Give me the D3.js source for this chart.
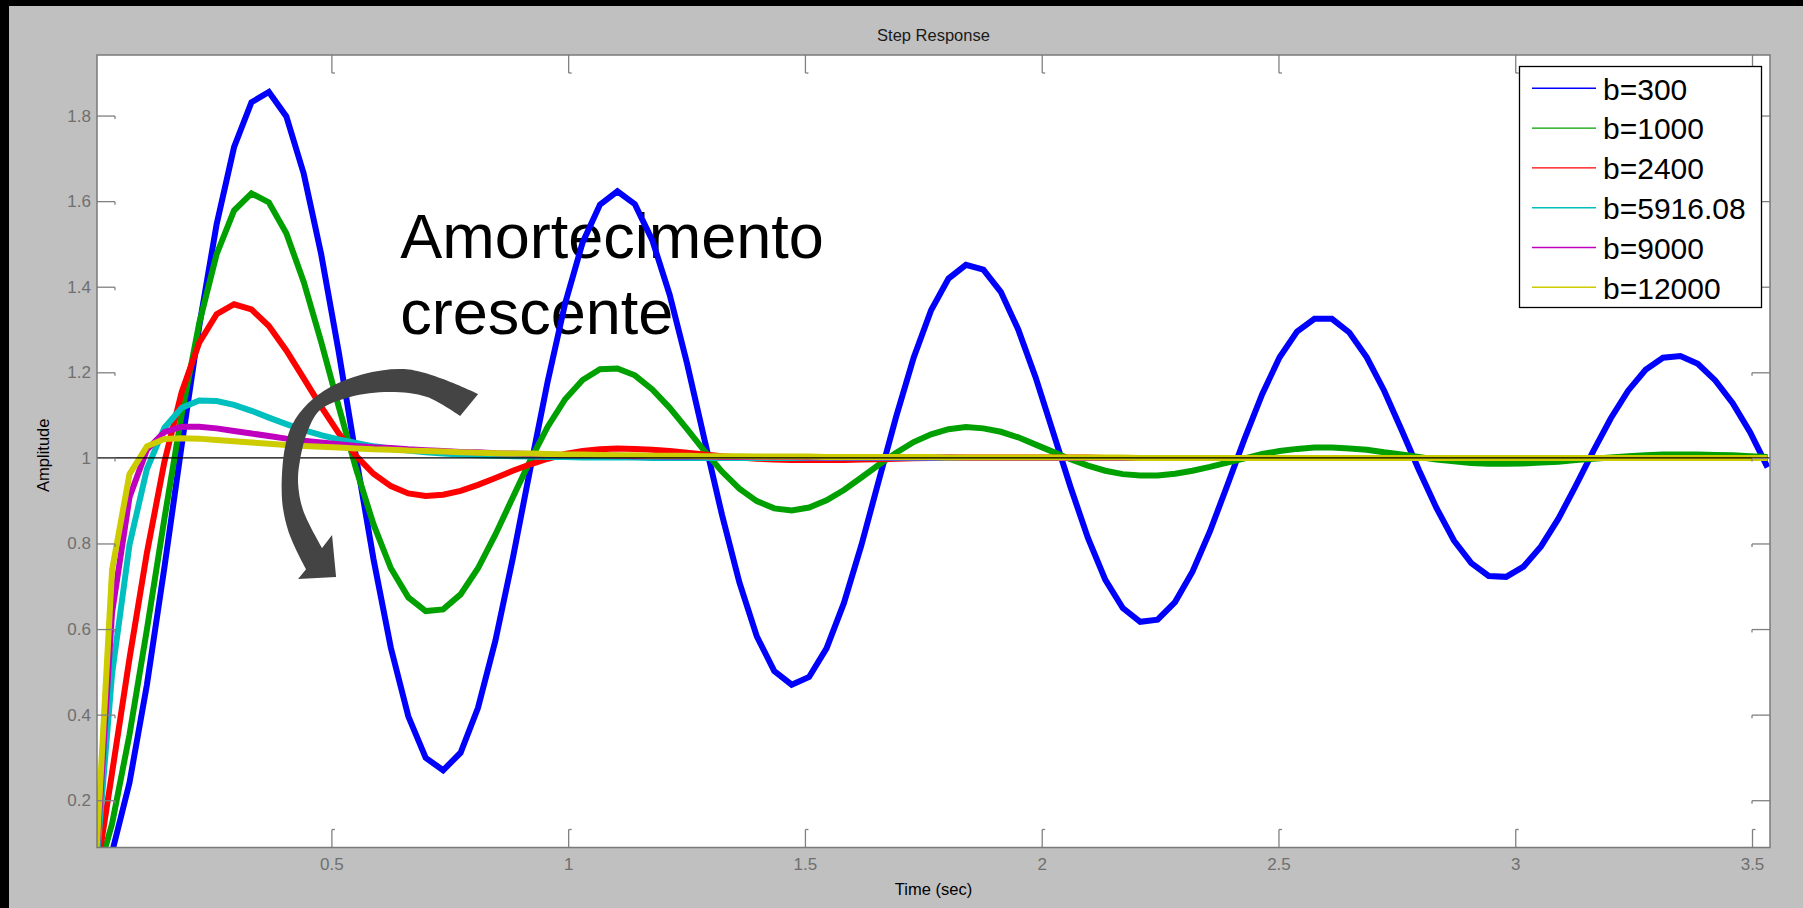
<!DOCTYPE html>
<html>
<head>
<meta charset="utf-8">
<script src="https://cdn.jsdelivr.net/npm/d3@7/dist/d3.min.js"></script>
<style>
  html, body { margin: 0; padding: 0; background: #c0c0c0; }
  svg { display: block; }
  text { font-family: "Liberation Sans", Arial, Helvetica, sans-serif; }
</style>
</head>
<body>
<svg id="chart" width="1803" height="908"></svg>
<script>
// Step response of the suspension model for increasing damping coefficient b.
// Every series is sampled on the same time grid (sampleStep seconds apart, starting at 0).
const sampleStep = 0.0368;

const seriesLabels = ["b=300", "b=1000", "b=2400", "b=5916.08", "b=9000", "b=12000"];
const seriesColors = ["#0000ff", "#00a000", "#ff0000", "#00bfbf", "#bf00bf", "#cccc00"];

const respB300 = [
  0, 0.078, 0.241, 0.470, 0.743, 1.031, 1.307, 1.546, 1.726, 1.831,
  1.855, 1.798, 1.664, 1.476, 1.249, 1.002, 0.764, 0.556, 0.396, 0.299,
  0.270, 0.311, 0.416, 0.573, 0.766, 0.975, 1.179, 1.361, 1.503, 1.592,
  1.623, 1.593, 1.509, 1.381, 1.220, 1.042, 0.867, 0.709, 0.583, 0.502,
  0.470, 0.488, 0.555, 0.661, 0.796, 0.947, 1.097, 1.234, 1.345, 1.419,
  1.451, 1.440, 1.388, 1.300, 1.188, 1.060, 0.932, 0.813, 0.715, 0.649,
  0.617, 0.622, 0.663, 0.734, 0.828, 0.936, 1.046, 1.149, 1.235, 1.295,
  1.325, 1.325, 1.293, 1.235, 1.157, 1.065, 0.971, 0.883, 0.807, 0.754,
  0.724, 0.722, 0.746, 0.793, 0.858, 0.935, 1.016, 1.092, 1.157, 1.206,
  1.234, 1.238, 1.220, 1.181, 1.128, 1.060, 0.978
];

const respB1000 = [
  0, 0.145, 0.353, 0.599, 0.857, 1.103, 1.314, 1.476, 1.578, 1.618,
  1.597, 1.525, 1.411, 1.271, 1.121, 0.975, 0.845, 0.742, 0.674, 0.642,
  0.646, 0.681, 0.742, 0.821, 0.908, 0.994, 1.073, 1.137, 1.182, 1.207,
  1.209, 1.193, 1.160, 1.117, 1.067, 1.016, 0.968, 0.928, 0.899, 0.882,
  0.877, 0.884, 0.901, 0.925, 0.954, 0.984, 1.012, 1.037, 1.055, 1.067,
  1.072, 1.069, 1.061, 1.048, 1.031, 1.014, 0.997, 0.982, 0.970, 0.962,
  0.959, 0.959, 0.963, 0.970, 0.979, 0.989, 0.999, 1.009, 1.016, 1.021,
  1.024, 1.024, 1.022, 1.019, 1.013, 1.008, 1.002, 0.996, 0.992, 0.988,
  0.986, 0.986, 0.987, 0.989, 0.991, 0.995, 0.998, 1.001, 1.004, 1.006,
  1.008, 1.008, 1.008, 1.007, 1.006, 1.004, 1.002
];

const respB2400 = [
  0, 0.264, 0.531, 0.778, 0.990, 1.154, 1.269, 1.336, 1.359, 1.347,
  1.308, 1.251, 1.186, 1.120, 1.058, 1.005, 0.963, 0.934, 0.917, 0.911,
  0.914, 0.923, 0.937, 0.953, 0.970, 0.985, 0.998, 1.009, 1.016, 1.020,
  1.022, 1.021, 1.019, 1.016, 1.012, 1.008, 1.004, 1.001, 0.998, 0.996,
  0.995, 0.995, 0.995, 0.995, 0.996, 0.997, 0.998, 0.999, 1.000, 1.001,
  1.001, 1.001, 1.001, 1.001, 1.001, 1.001, 1.001, 1.001, 1.000, 1.000,
  1.000, 1.000, 1.000, 1.000, 1.000, 1.000, 1.000, 1.000, 1.000, 1.000,
  1.000, 1.000, 1.000, 1.000, 1.000, 1.000, 1.000, 1.000, 1.000, 1.000,
  1.000, 1.000, 1.000, 1.000, 1.000, 1.000, 1.000, 1.000, 1.000, 1.000,
  1.000, 1.000, 1.000, 1.000, 1.000, 1.000, 1.000
];

const respB5916 = [
  0, 0.495, 0.797, 0.974, 1.070, 1.117, 1.134, 1.133, 1.124, 1.110,
  1.094, 1.079, 1.065, 1.053, 1.043, 1.035, 1.027, 1.022, 1.017, 1.013,
  1.010, 1.008, 1.006, 1.005, 1.004, 1.003, 1.002, 1.002, 1.001, 1.001,
  1.001, 1.001, 1.000, 1.000, 1.000, 1.000, 1.000, 1.000, 1.000, 1.000,
  1.000, 1.000, 1.000, 1.000, 1.000, 1.000, 1.000, 1.000, 1.000, 1.000,
  1.000, 1.000, 1.000, 1.000, 1.000, 1.000, 1.000, 1.000, 1.000, 1.000,
  1.000, 1.000, 1.000, 1.000, 1.000, 1.000, 1.000, 1.000, 1.000, 1.000,
  1.000, 1.000, 1.000, 1.000, 1.000, 1.000, 1.000, 1.000, 1.000, 1.000,
  1.000, 1.000, 1.000, 1.000, 1.000, 1.000, 1.000, 1.000, 1.000, 1.000,
  1.000, 1.000, 1.000, 1.000, 1.000, 1.000, 1.000
];

const respB9000 = [
  0, 0.638, 0.908, 1.019, 1.060, 1.073, 1.073, 1.069, 1.063, 1.057,
  1.051, 1.045, 1.040, 1.036, 1.032, 1.028, 1.025, 1.023, 1.020, 1.018,
  1.016, 1.014, 1.013, 1.011, 1.010, 1.009, 1.008, 1.007, 1.006, 1.006,
  1.005, 1.004, 1.004, 1.003, 1.003, 1.003, 1.002, 1.002, 1.002, 1.002,
  1.002, 1.001, 1.001, 1.001, 1.001, 1.001, 1.001, 1.001, 1.001, 1.001,
  1.000, 1.000, 1.000, 1.000, 1.000, 1.000, 1.000, 1.000, 1.000, 1.000,
  1.000, 1.000, 1.000, 1.000, 1.000, 1.000, 1.000, 1.000, 1.000, 1.000,
  1.000, 1.000, 1.000, 1.000, 1.000, 1.000, 1.000, 1.000, 1.000, 1.000,
  1.000, 1.000, 1.000, 1.000, 1.000, 1.000, 1.000, 1.000, 1.000, 1.000,
  1.000, 1.000, 1.000, 1.000, 1.000, 1.000, 1.000
];

const respB12000 = [
  0, 0.738, 0.962, 1.027, 1.044, 1.046, 1.045, 1.042, 1.039, 1.036,
  1.033, 1.030, 1.028, 1.026, 1.024, 1.022, 1.020, 1.019, 1.017, 1.016,
  1.015, 1.013, 1.012, 1.011, 1.010, 1.010, 1.009, 1.008, 1.008, 1.007,
  1.006, 1.006, 1.005, 1.005, 1.005, 1.004, 1.004, 1.004, 1.003, 1.003,
  1.003, 1.003, 1.002, 1.002, 1.002, 1.002, 1.002, 1.002, 1.002, 1.001,
  1.001, 1.001, 1.001, 1.001, 1.001, 1.001, 1.001, 1.001, 1.001, 1.001,
  1.000, 1.000, 1.000, 1.000, 1.000, 1.000, 1.000, 1.000, 1.000, 1.000,
  1.000, 1.000, 1.000, 1.000, 1.000, 1.000, 1.000, 1.000, 1.000, 1.000,
  1.000, 1.000, 1.000, 1.000, 1.000, 1.000, 1.000, 1.000, 1.000, 1.000,
  1.000, 1.000, 1.000, 1.000, 1.000, 1.000, 1.000
];

const xTickValues = [0.5, 1, 1.5, 2, 2.5, 3, 3.5];
const yTickValues = [0.2, 0.4, 0.6, 0.8, 1, 1.2, 1.4, 1.6, 1.8];

const annotationLines = ["Amortecimento", "crescente"];

// Curved "increasing damping" arrow, outlined in data units (time, amplitude)
const arrowOuter = [[0.810, 1.149], [0.6535, 1.2075], [0.497, 1.165], [0.417, 1.077],
                    [0.395, 0.925], [0.4085, 0.831], [0.4465, 0.740]];
const arrowHead = [[0.4296, 0.7168], [0.5099, 0.7215], [0.5014, 0.8196]];
const arrowInner = [[0.4803, 0.7893], [0.4401, 0.8781], [0.4296, 0.9411], [0.4338, 0.9949],
                    [0.4507, 1.0650], [0.4761, 1.1117], [0.5394, 1.1421], [0.6239, 1.1538],
                    [0.7021, 1.1421], [0.7718, 1.0977]];

// ---------------------------------------------------------------------------
const W = 1803, H = 908;
const plot = { left: 97, top: 55, right: 1770, bottom: 847.5 };
const allSeries = [respB300, respB1000, respB2400, respB5916, respB9000, respB12000];

const x = d3.scaleLinear().domain([0.005, 3.538]).range([plot.left, plot.right]);
const y = d3.scaleLinear().domain([0.0895, 1.9415]).range([plot.bottom, plot.top]);

const svg = d3.select("#chart");

// figure background with the dark strips along the top and left edges
svg.append("rect").attr("width", W).attr("height", H).attr("fill", "#c0c0c0");
svg.append("rect").attr("x", 0).attr("y", 0).attr("width", 9).attr("height", H).attr("fill", "#000");
svg.append("rect").attr("x", 0).attr("y", 0).attr("width", W).attr("height", 6).attr("fill", "#000");

// axes area
svg.append("rect")
  .attr("x", plot.left).attr("y", plot.top)
  .attr("width", plot.right - plot.left).attr("height", plot.bottom - plot.top)
  .attr("fill", "#ffffff");

svg.append("defs").append("clipPath").attr("id", "plotClip")
  .append("rect")
  .attr("x", plot.left).attr("y", plot.top)
  .attr("width", plot.right - plot.left).attr("height", plot.bottom - plot.top);

// annotation text (sits under the curves)
const note = svg.append("text")
  .attr("x", x(0.6452)).attr("y", y(1.4668))
  .attr("font-size", 63).attr("fill", "#000");
annotationLines.forEach((s, i) => {
  note.append("tspan").attr("x", x(0.6452)).attr("dy", i === 0 ? 0 : 75.5).text(s);
});

// response curves
const gLines = svg.append("g").attr("clip-path", "url(#plotClip)");
const line = d3.line()
  .x((d, i) => x(i * sampleStep))
  .y(d => y(d));

allSeries.forEach((vals, si) => {
  gLines.append("path")
    .attr("d", line(vals))
    .attr("fill", "none")
    .attr("stroke", seriesColors[si])
    .attr("stroke-width", 6)
    .attr("stroke-linejoin", "miter")
    .attr("stroke-miterlimit", 6);
});

// steady-state reference at amplitude 1
gLines.append("line")
  .attr("x1", plot.left).attr("x2", plot.right)
  .attr("y1", y(1)).attr("y2", y(1))
  .attr("stroke", "#000").attr("stroke-width", 1.3);

// curved arrow
const curve = d3.line().x(d => x(d[0])).y(d => y(d[1])).curve(d3.curveCatmullRom.alpha(0.5));
const straight = d3.line().x(d => x(d[0])).y(d => y(d[1]));
const arrowPath = curve(arrowOuter)
  + straight(arrowHead).replace(/^M/, "L")
  + curve(arrowInner).replace(/^M/, "L") + "Z";
svg.append("path").attr("d", arrowPath).attr("fill", "#444444");

// axes: ticks pointing inward on all four sides, with the small end nub
const tickLen = 18, tickColor = "#808080";

const gBottom = svg.append("g").attr("transform", `translate(0,${plot.bottom})`)
  .call(d3.axisBottom(x).tickValues(xTickValues).tickSizeInner(-tickLen).tickSizeOuter(0)
        .tickPadding(10).tickFormat(d3.format("~g")));
const gTop = svg.append("g").attr("transform", `translate(0,${plot.top})`)
  .call(d3.axisTop(x).tickValues(xTickValues).tickSizeInner(-tickLen).tickSizeOuter(0).tickFormat(""));
const gLeft = svg.append("g").attr("transform", `translate(${plot.left},0)`)
  .call(d3.axisLeft(y).tickValues(yTickValues).tickSizeInner(-tickLen).tickSizeOuter(0)
        .tickPadding(6).tickFormat(d3.format("~g")));
const gRight = svg.append("g").attr("transform", `translate(${plot.right},0)`)
  .call(d3.axisRight(y).tickValues(yTickValues).tickSizeInner(-tickLen).tickSizeOuter(0).tickFormat(""));

[gBottom, gTop, gLeft, gRight].forEach(g => {
  g.select(".domain").remove();
  g.selectAll(".tick line").attr("stroke", tickColor).attr("stroke-width", 1.3);
  g.selectAll(".tick text")
    .attr("fill", "#6f6f6f").attr("font-size", 17)
    .attr("font-family", "'Liberation Sans', Arial, sans-serif");
});
gBottom.selectAll(".tick").append("line")
  .attr("x1", 0).attr("x2", 3).attr("y1", -tickLen).attr("y2", -tickLen)
  .attr("stroke", tickColor).attr("stroke-width", 1.3);
gTop.selectAll(".tick").append("line")
  .attr("x1", 0).attr("x2", 3).attr("y1", tickLen).attr("y2", tickLen)
  .attr("stroke", tickColor).attr("stroke-width", 1.3);
gLeft.selectAll(".tick").append("line")
  .attr("x1", tickLen).attr("x2", tickLen).attr("y1", 0).attr("y2", 3)
  .attr("stroke", tickColor).attr("stroke-width", 1.3);
gRight.selectAll(".tick").append("line")
  .attr("x1", -tickLen).attr("x2", -tickLen).attr("y1", 0).attr("y2", 3)
  .attr("stroke", tickColor).attr("stroke-width", 1.3);

// axes box
svg.append("rect")
  .attr("x", plot.left).attr("y", plot.top)
  .attr("width", plot.right - plot.left).attr("height", plot.bottom - plot.top)
  .attr("fill", "none").attr("stroke", "#7a7a7a").attr("stroke-width", 1.5);

// titles
svg.append("text")
  .attr("x", (plot.left + plot.right) / 2).attr("y", 41)
  .attr("text-anchor", "middle").attr("font-size", 16.5).attr("fill", "#1a1a1a")
  .text("Step Response");
svg.append("text")
  .attr("x", (plot.left + plot.right) / 2).attr("y", 895)
  .attr("text-anchor", "middle").attr("font-size", 16.5).attr("fill", "#000")
  .text("Time (sec)");
svg.append("text")
  .attr("transform", `translate(48.5,${(plot.top + plot.bottom) / 2 + 4}) rotate(-90)`)
  .attr("text-anchor", "middle").attr("font-size", 16.5).attr("fill", "#000")
  .text("Amplitude");

// legend
const legend = { left: 1519.5, top: 66.5, width: 242, height: 241, firstRow: 88.3, rowStep: 39.8 };
const gLegend = svg.append("g");
gLegend.append("rect")
  .attr("x", legend.left).attr("y", legend.top)
  .attr("width", legend.width).attr("height", legend.height)
  .attr("fill", "#fff").attr("stroke", "#000").attr("stroke-width", 1.3);
seriesLabels.forEach((label, i) => {
  const ry = legend.firstRow + i * legend.rowStep;
  gLegend.append("line")
    .attr("x1", legend.left + 12.5).attr("x2", legend.left + 76.5)
    .attr("y1", ry).attr("y2", ry)
    .attr("stroke", seriesColors[i]).attr("stroke-width", 1.4);
  gLegend.append("text")
    .attr("x", legend.left + 83.5).attr("y", ry + 11.3)
    .attr("font-size", 30).attr("fill", "#000")
    .text(label);
});
</script>
</body>
</html>
